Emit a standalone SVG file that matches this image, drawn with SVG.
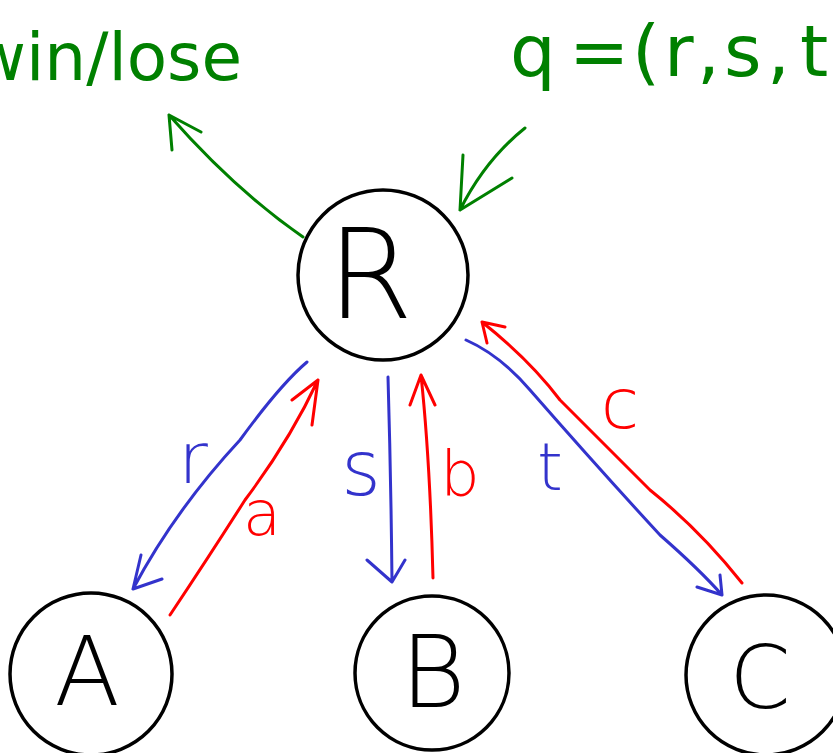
<svg xmlns="http://www.w3.org/2000/svg" width="833" height="753" viewBox="0 0 833 753">
<style>
.node{fill:#fff;stroke:#000;stroke-width:3.5}
.lbl{font-family:"DejaVu Sans",sans-serif;font-weight:200;text-anchor:middle}
.nl{fill:#000}
.blue{stroke:#3333cc;fill:none;stroke-width:3;stroke-linecap:round;stroke-linejoin:round}
.red{stroke:#ff0000;fill:none;stroke-width:3;stroke-linecap:round;stroke-linejoin:round}
.green{stroke:#008000;fill:none;stroke-width:3;stroke-linecap:round;stroke-linejoin:round}
.bt{fill:#3333cc}
.rt{fill:#ff0000}
.gt{fill:#008000}
</style>
<rect width="833" height="753" fill="#fff"/>
<text x="-28" y="80" font-family="DejaVu Sans, sans-serif" font-size="66" class="gt">win/lose</text>
<text y="76" font-family="DejaVu Sans, sans-serif" font-size="72" class="gt"><tspan x="510">q</tspan><tspan x="569">=</tspan><tspan x="632">(</tspan><tspan x="664">r</tspan><tspan x="697">,</tspan><tspan x="724">s</tspan><tspan x="767">,</tspan><tspan x="800">t</tspan></text>
<g id="R"><circle class="node" cx="383" cy="275" r="85"/><text class="lbl nl" x="370" y="318" font-size="124">R</text></g>
<g id="A"><circle class="node" cx="91" cy="674" r="81"/><text class="lbl nl" x="87" y="705" font-size="96">A</text></g>
<g id="B"><circle class="node" cx="432" cy="673" r="77"/><text class="lbl nl" x="433" y="707" font-size="100">B</text></g>
<g id="C"><circle class="node" cx="766" cy="675" r="80"/><text class="lbl nl" x="760" y="708" font-size="88">C</text></g>
<g id="connectors">
<path class="green" d="M303,237 Q235,190 169,115 M172,150 L169,115 L201,132"/>
<path class="green" stroke-width="5" d="M525,128 Q485,160 460,210 M463,155 L460,210 L512,178"/>
<path class="blue" d="M307,362 Q280,385 240,440 Q175,510 133,589 M141,555 L133,589 L162,579"/>
<path class="red" d="M170,615 Q210,555 245,500 Q290,440 318,380 M292,400 L318,380 L312,425"/>
<path class="blue" d="M388,377 Q391,480 392,582 M367,560 L392,582 L405,560"/>
<path class="red" d="M433,578 Q430,460 421,375 M410,405 L421,375 L435,405"/>
<path class="blue" d="M466,340 Q500,355 530,390 Q600,470 660,535 Q700,570 722,595 M697,587 L722,595 L720,575"/>
<path class="red" d="M742,583 Q700,530 650,490 Q590,430 560,400 Q530,360 482,322 M487,343 L482,322 L505,327"/>
</g>
<text class="lbl bt" x="193" y="483" font-size="72">r</text>
<text class="lbl rt" x="262" y="535" font-size="62">a</text>
<text class="lbl bt" x="361" y="495" font-size="76">s</text>
<text class="lbl rt" x="460" y="495" font-size="62">b</text>
<text class="lbl bt" x="550" y="490" font-size="66">t</text>
<text class="lbl rt" x="620" y="428" font-size="70">c</text>
</svg>
